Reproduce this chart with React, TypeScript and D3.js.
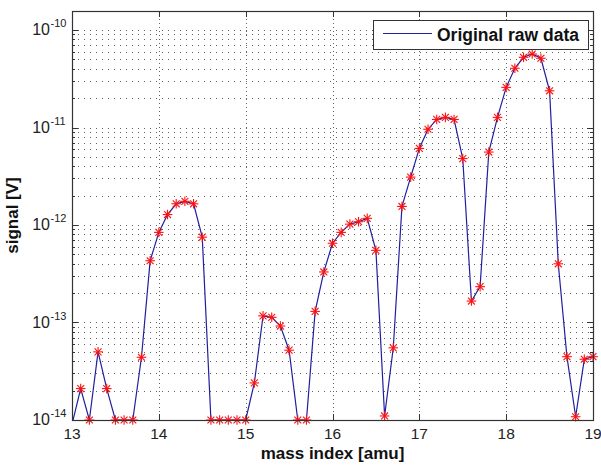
import React from "react";
import * as d3 from "d3";

const masses: number[] = [
  13.0, 13.1, 13.2, 13.3, 13.4, 13.5, 13.6, 13.7, 13.8, 13.9,
  14.0, 14.1, 14.2, 14.3, 14.4, 14.5, 14.6, 14.7, 14.8, 14.9,
  15.0, 15.1, 15.2, 15.3, 15.4, 15.5, 15.6, 15.7, 15.8, 15.9,
  16.0, 16.1, 16.2, 16.3, 16.4, 16.5, 16.6, 16.7, 16.8, 16.9,
  17.0, 17.1, 17.2, 17.3, 17.4, 17.5, 17.6, 17.7, 17.8, 17.9,
  18.0, 18.1, 18.2, 18.3, 18.4, 18.5, 18.6, 18.7, 18.8, 18.9,
  19.0,
];

const signal: number[] = [
  9e-15, 2.1e-14, 1e-14, 5.0e-14, 2.1e-14, 1e-14, 1e-14, 1e-14, 4.4e-14, 4.3e-13,
  8.4e-13, 1.28e-12, 1.65e-12, 1.75e-12, 1.65e-12, 7.5e-13, 1e-14, 1e-14, 1e-14, 1e-14,
  1e-14, 2.4e-14, 1.17e-13, 1.13e-13, 9.2e-14, 5.2e-14, 1e-14, 1e-14, 1.3e-13, 3.3e-13,
  6.5e-13, 8.4e-13, 1.02e-12, 1.08e-12, 1.17e-12, 5.5e-13, 1.1e-14, 5.5e-14, 1.55e-12, 3.1e-12,
  6.1e-12, 9.6e-12, 1.21e-11, 1.27e-11, 1.21e-11, 4.8e-12, 1.66e-13, 2.33e-13, 5.6e-12, 1.27e-11,
  2.58e-11, 4.05e-11, 5.25e-11, 5.67e-11, 5.13e-11, 2.38e-11, 4.0e-13, 4.46e-14, 1.08e-14, 4.2e-14,
  4.46e-14,
];

const xTicks: number[] = [13, 14, 15, 16, 17, 18, 19];
const yExponents: number[] = [-14, -13, -12, -11, -10];
const legendLabel = "Original raw data";
const xLabel = "mass index [amu]";
const yLabel = "signal [V]";

const W = 601;
const H = 468;
const L = 72;
const R = 593;
const T = 11;
const B = 420;

export default function App() {
  const x = d3.scaleLinear().domain([13, 19]).range([L, R]);
  const yMin = 1e-14;
  const yMax = Math.pow(10, -10 + (30 - T) / 97.5);
  const y = d3.scaleLog().domain([yMin, yMax]).range([B, T]);

  const data = masses.map((m, i) => ({ m, v: signal[i] }));
  const line = d3
    .line<{ m: number; v: number }>()
    .x((d) => x(d.m))
    .y((d) => y(d.v));

  const minor: number[] = [];
  for (let e = -14; e <= -10; e++) {
    for (let k = 1; k <= 9; k++) {
      const v = k * Math.pow(10, e);
      if (v > yMin * 1.0001 && v < yMax) minor.push(v);
    }
  }

  const font = "'Liberation Sans', Arial, Helvetica, sans-serif";
  const axisColor = "#333";
  const gridColor = "#222";
  const lineColor = "#1f1fa0";

  const star = (cx: number, cy: number, key: number) => {
    const r = 4.8;
    const d = r * 0.72;
    return (
      <g key={key} stroke="#ff1010" strokeWidth={1.1}>
        <line x1={cx - r} y1={cy} x2={cx + r} y2={cy} />
        <line x1={cx} y1={cy - r} x2={cx} y2={cy + r} />
        <line x1={cx - d} y1={cy - d} x2={cx + d} y2={cy + d} />
        <line x1={cx - d} y1={cy + d} x2={cx + d} y2={cy - d} />
      </g>
    );
  };

  return (
    <svg
      width={W}
      height={H}
      style={{ position: "absolute", left: 0, top: 0, background: "#fff" }}
      fontFamily={font}
    >
      <defs>
        <clipPath id="plotclip">
          <rect x={L} y={T} width={R - L} height={B - T} />
        </clipPath>
      </defs>
      <rect x={0} y={0} width={W} height={H} fill="#fff" />

      {/* grid */}
      <g stroke={gridColor} strokeWidth={1} opacity={0.7}>
        {xTicks
          .filter((t) => t > 13 && t < 19)
          .map((t) => (
            <line
              key={"gx" + t}
              x1={Math.round(x(t)) + 0.5}
              x2={Math.round(x(t)) + 0.5}
              y1={T}
              y2={B}
              strokeDasharray="1,3"
            />
          ))}
        {minor.map((v, i) => (
          <line
            key={"gy" + i}
            x1={L}
            x2={R}
            y1={Math.round(y(v)) + 0.5}
            y2={Math.round(y(v)) + 0.5}
            strokeDasharray="1,5"
          />
        ))}
      </g>

      {/* data line */}
      <path
        d={line(data) || ""}
        fill="none"
        stroke={lineColor}
        strokeWidth={1.2}
        clipPath="url(#plotclip)"
      />
      {data
        .filter((d) => d.v >= yMin * 0.999)
        .map((d, i) => star(x(d.m), y(d.v), i))}

      {/* box */}
      <rect x={L + 0.5} y={T + 0.5} width={R - L} height={B - T} fill="none" stroke={axisColor} strokeWidth={1.2} />

      {/* ticks */}
      <g stroke={axisColor} strokeWidth={1}>
        {xTicks.map((t) => (
          <g key={"xt" + t}>
            <line x1={Math.round(x(t)) + 0.5} x2={Math.round(x(t)) + 0.5} y1={B} y2={B - 6} />
            <line x1={Math.round(x(t)) + 0.5} x2={Math.round(x(t)) + 0.5} y1={T} y2={T + 6} />
          </g>
        ))}
        {minor.map((v, i) => {
          const yy = Math.round(y(v)) + 0.5;
          const isMajor = Math.abs(Math.log10(v) - Math.round(Math.log10(v))) < 1e-6;
          const len = isMajor ? 6 : 3;
          return (
            <g key={"yt" + i}>
              <line x1={L} x2={L + len} y1={yy} y2={yy} />
              <line x1={R} x2={R - len} y1={yy} y2={yy} />
            </g>
          );
        })}
      </g>

      {/* x tick labels */}
      {xTicks.map((t) => (
        <text key={"xl" + t} x={x(t)} y={439} textAnchor="middle" fontSize={15.5} fill="#222">
          {t}
        </text>
      ))}

      {/* y tick labels */}
      {yExponents.map((e) => {
        const yy = y(Math.pow(10, e));
        return (
          <g key={"yl" + e} fill="#222">
            <text x={50} y={yy + 5} textAnchor="end" fontSize={16}>
              10
            </text>
            <text x={50.5} y={yy - 3} fontSize={11}>
              {String(e)}
            </text>
          </g>
        );
      })}

      {/* axis labels */}
      <text x={(L + R) / 2} y={459} textAnchor="middle" fontSize={17} fontWeight="bold" fill="#111">
        {xLabel}
      </text>
      <text
        transform={`translate(18, ${(T + B) / 2}) rotate(-90)`}
        textAnchor="middle"
        fontSize={17}
        fontWeight="bold"
        fill="#111"
      >
        {yLabel}
      </text>

      {/* legend */}
      <rect x={373.5} y={20.5} width={215} height={29} fill="#fff" stroke={axisColor} strokeWidth={1} />
      <line x1={383} x2={432} y1={33.5} y2={33.5} stroke={lineColor} strokeWidth={1.2} />
      <text x={437} y={40.5} fontSize={17.5} fontWeight="bold" fill="#111">
        {legendLabel}
      </text>
    </svg>
  );
}
